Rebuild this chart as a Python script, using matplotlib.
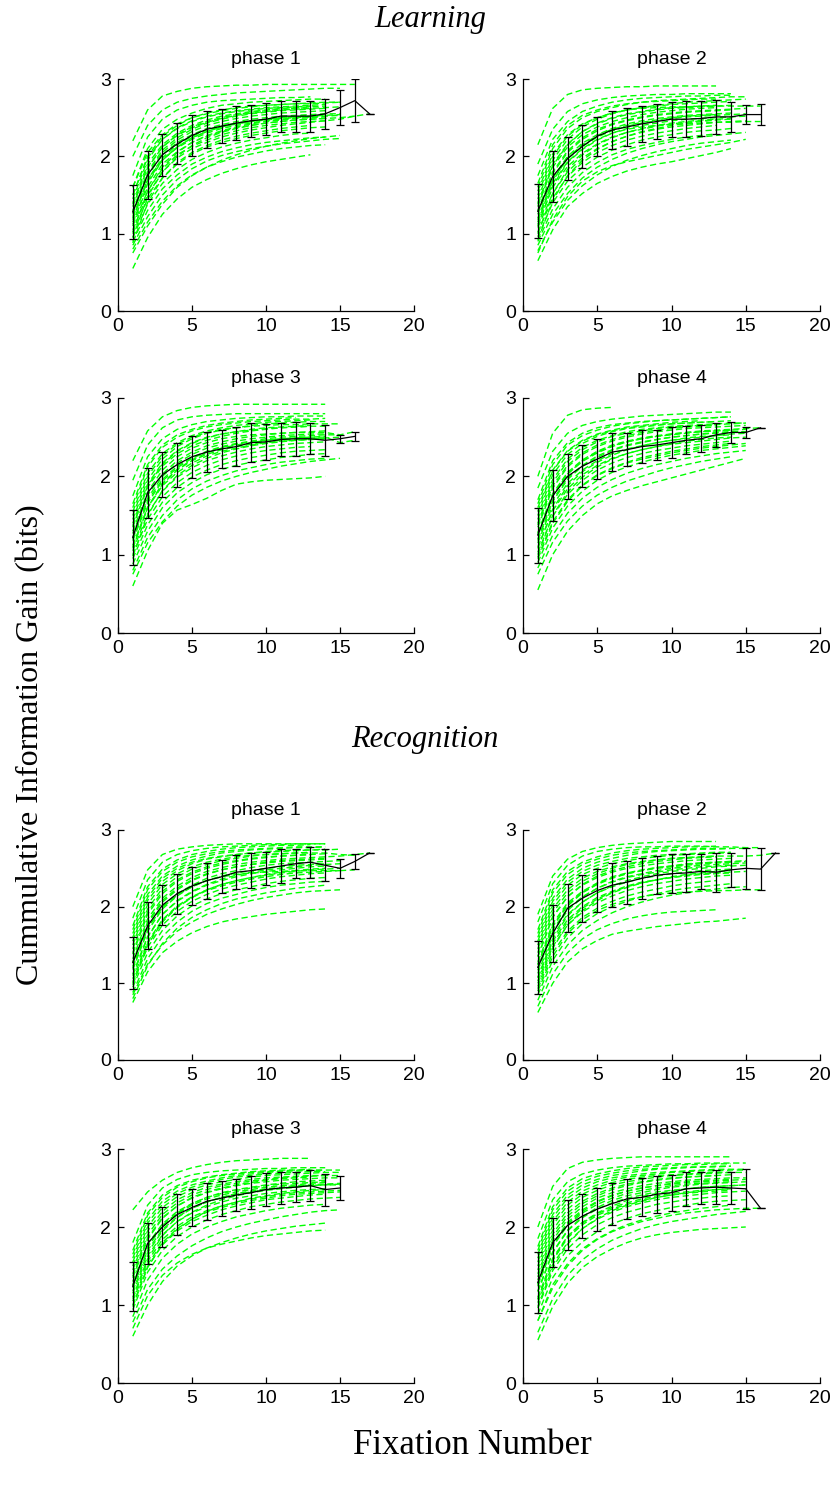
import numpy as np
import matplotlib
matplotlib.use("Agg")
import matplotlib.pyplot as plt

# Cumulative information gain per fixation, Learning / Recognition, phases 1-4
# mean curve and half-width of the error bar, one value per fixation number
learn_p1_mean = [1.28, 1.76, 2.02, 2.16, 2.27, 2.35, 2.39, 2.43, 2.46, 2.48, 2.52, 2.52, 2.52, 2.55, 2.63, 2.72, 2.55]
learn_p1_err = [0.35, 0.31, 0.275, 0.265, 0.26, 0.24, 0.22, 0.22, 0.205, 0.205, 0.20, 0.20, 0.20, 0.195, 0.23, 0.275, 0]
learn_p2_mean = [1.29, 1.74, 1.97, 2.13, 2.26, 2.34, 2.38, 2.42, 2.45, 2.48, 2.48, 2.49, 2.51, 2.51, 2.54, 2.54]
learn_p2_err = [0.35, 0.33, 0.275, 0.275, 0.25, 0.24, 0.245, 0.23, 0.225, 0.225, 0.23, 0.23, 0.215, 0.19, 0.125, 0.14]
learn_p3_mean = [1.22, 1.79, 2.02, 2.15, 2.25, 2.31, 2.35, 2.38, 2.43, 2.44, 2.47, 2.48, 2.48, 2.46, 2.48, 2.51]
learn_p3_err = [0.35, 0.32, 0.285, 0.28, 0.27, 0.255, 0.245, 0.245, 0.245, 0.23, 0.21, 0.22, 0.195, 0.195, 0.05, 0.055]
learn_p4_mean = [1.25, 1.75, 2.00, 2.13, 2.22, 2.31, 2.34, 2.38, 2.40, 2.43, 2.46, 2.48, 2.53, 2.56, 2.56, 2.62]
learn_p4_err = [0.35, 0.325, 0.29, 0.265, 0.26, 0.245, 0.21, 0.21, 0.195, 0.20, 0.18, 0.17, 0.155, 0.135, 0.075, 0]
recog_p1_mean = [1.27, 1.75, 2.02, 2.17, 2.27, 2.34, 2.39, 2.45, 2.47, 2.50, 2.53, 2.56, 2.58, 2.54, 2.50, 2.59, 2.70]
recog_p1_err = [0.34, 0.305, 0.265, 0.26, 0.25, 0.235, 0.215, 0.22, 0.23, 0.215, 0.22, 0.19, 0.20, 0.21, 0.125, 0.095, 0]
recog_p2_mean = [1.21, 1.65, 1.98, 2.11, 2.21, 2.28, 2.32, 2.37, 2.41, 2.43, 2.44, 2.46, 2.45, 2.48, 2.50, 2.49, 2.70]
recog_p2_err = [0.345, 0.37, 0.315, 0.305, 0.285, 0.285, 0.28, 0.265, 0.25, 0.255, 0.25, 0.23, 0.255, 0.22, 0.265, 0.275, 0]
recog_p3_mean = [1.24, 1.79, 2.00, 2.16, 2.25, 2.33, 2.37, 2.41, 2.44, 2.48, 2.50, 2.51, 2.53, 2.48, 2.50]
recog_p3_err = [0.315, 0.26, 0.255, 0.26, 0.235, 0.235, 0.225, 0.21, 0.215, 0.21, 0.21, 0.19, 0.195, 0.205, 0.15]
recog_p4_mean = [1.29, 1.80, 2.02, 2.14, 2.23, 2.30, 2.36, 2.38, 2.42, 2.44, 2.49, 2.50, 2.51, 2.50, 2.49, 2.24]
recog_p4_err = [0.395, 0.315, 0.32, 0.285, 0.275, 0.27, 0.255, 0.245, 0.235, 0.23, 0.215, 0.21, 0.215, 0.21, 0.255, 0]

# individual subjects (bits x 100), fixation 1..n
learn_p1_subj = [
    [220, 260, 278, 284, 288, 290, 291, 292, 292, 293, 293, 293, 293, 293, 293, 293],
    [200, 240, 260, 270, 275, 278, 280, 282, 283, 284, 285, 286, 287, 288, 288],
    [175, 225, 248, 260, 266, 270, 272, 273, 274, 275, 276, 276, 277],
    [160, 210, 235, 248, 256, 262, 266, 268, 270, 271, 272, 273, 274, 274],
    [150, 200, 226, 240, 250, 256, 260, 263, 265, 266, 267, 268, 268, 269, 270],
    [140, 190, 215, 230, 240, 247, 252, 255, 258, 260, 262, 263, 264, 265],
    [130, 180, 208, 224, 235, 243, 248, 252, 255, 257, 259, 260, 261, 262],
    [125, 175, 202, 218, 228, 236, 241, 245, 248, 250, 252, 253, 254, 255, 255],
    [120, 168, 195, 212, 224, 232, 238, 242, 245, 248, 250, 252, 253, 254],
    [115, 160, 190, 206, 218, 226, 232, 237, 240, 243, 245, 247, 248, 249, 250, 252],
    [110, 155, 184, 202, 213, 221, 228, 233, 237, 240, 242, 244, 245, 246],
    [105, 150, 180, 198, 210, 218, 225, 230, 234, 237, 240, 242, 244, 246, 248, 252, 255],
    [100, 145, 172, 190, 203, 212, 218, 223, 227, 230, 233, 235, 237, 238],
    [95, 138, 165, 183, 196, 205, 212, 217, 221, 224, 227, 229, 230],
    [90, 130, 158, 176, 190, 199, 206, 211, 215, 218, 220, 222, 224, 225],
    [85, 122, 150, 170, 184, 194, 201, 206, 210, 213, 216, 218, 220, 222, 223],
    [80, 115, 142, 162, 176, 186, 193, 199, 203, 207, 210, 212, 214, 215],
    [75, 110, 138, 160, 175, 186, 195, 202, 208, 213, 217, 220, 223, 225, 227],
    [55, 95, 125, 145, 160, 170, 178, 184, 189, 193, 196, 199, 202],
    [135, 185, 212, 228, 238, 245, 250, 254, 257, 259, 261, 262, 263],
    [118, 170, 198, 215, 226, 234, 239, 243, 246, 248, 250, 251, 252, 253, 254],
    [145, 195, 222, 237, 246, 252, 256, 259, 261, 263, 264, 265, 266, 267],
    [88, 140, 172, 192, 205, 214, 221, 226, 230, 233, 236, 238, 240],
    [160, 205, 228, 242, 250, 255, 259, 262, 264, 266, 267, 268, 269, 270, 270],
    [128, 178, 205, 221, 232, 240, 245, 249, 252, 254, 256, 257, 258, 259],
    [112, 165, 195, 212, 224, 232, 238, 242, 245, 247, 249, 250, 251],
    [138, 186, 212, 227, 237, 244, 249, 253, 256, 258, 260, 261, 262, 263, 264],
    [102, 155, 186, 205, 218, 227, 233, 238, 242, 245, 247, 249, 250, 251],
    [122, 170, 196, 211, 222, 230, 236, 240, 243, 246, 248, 250, 251, 252, 253],
    [150, 198, 222, 236, 245, 251, 255, 258, 260, 262, 263, 264, 265],
    [95, 148, 180, 200, 214, 224, 231, 236, 240, 243, 245, 247, 248, 249],
]
learn_p2_subj = [
    [215, 262, 280, 286, 288, 289, 290, 290, 291, 291, 291, 291, 291],
    [190, 235, 258, 268, 273, 276, 278, 279, 280, 280, 281, 281, 281, 281],
    [175, 222, 245, 258, 265, 270, 273, 275, 276, 277, 278, 278, 279, 279],
    [160, 210, 236, 250, 258, 263, 267, 270, 272, 273, 274, 275, 276, 277, 277],
    [150, 200, 226, 241, 250, 256, 260, 262, 263, 264, 264, 265, 265, 265, 265, 265],
    [140, 190, 216, 232, 242, 249, 254, 257, 260, 262, 263, 264, 265, 266],
    [130, 180, 207, 224, 235, 242, 247, 251, 254, 256, 258, 259, 260, 261, 262],
    [125, 172, 200, 217, 228, 236, 242, 246, 249, 251, 253, 254, 255, 256],
    [118, 165, 193, 210, 222, 230, 235, 238, 240, 241, 242, 243, 244, 244, 245, 245],
    [112, 160, 187, 204, 216, 225, 231, 235, 239, 242, 244, 246, 247, 248],
    [108, 152, 180, 198, 210, 219, 226, 231, 235, 238, 240, 242, 244, 245, 246],
    [102, 146, 174, 192, 205, 214, 221, 226, 230, 233, 236, 238, 240],
    [96, 140, 168, 186, 199, 208, 215, 221, 225, 228, 231, 233, 234, 236],
    [90, 132, 160, 179, 192, 202, 209, 214, 218, 222, 225, 227, 229],
    [85, 125, 152, 172, 186, 196, 204, 210, 215, 219, 222, 225, 227, 229, 231],
    [78, 115, 143, 162, 176, 187, 195, 201, 206, 210, 214, 217, 219, 221],
    [65, 105, 135, 152, 165, 174, 181, 186, 190, 193, 197, 201, 205, 210],
    [75, 118, 148, 168, 180, 188, 193, 197, 201, 205, 209, 212, 215, 218, 222],
    [135, 188, 215, 232, 243, 250, 255, 258, 261, 263, 264, 265, 266],
    [145, 195, 222, 238, 248, 255, 260, 263, 266, 268, 270, 271, 272, 273, 274],
    [115, 168, 198, 215, 227, 235, 240, 244, 247, 250, 252, 253, 254],
    [165, 215, 240, 253, 260, 265, 268, 270, 271, 272, 273, 274, 274],
    [128, 178, 205, 222, 233, 241, 246, 250, 253, 255, 257, 258, 259, 260],
    [110, 162, 192, 209, 221, 230, 236, 240, 243, 246, 248, 249, 250, 251, 252],
    [138, 186, 212, 228, 238, 245, 250, 254, 257, 259, 261, 262, 263],
    [100, 152, 183, 202, 215, 224, 231, 236, 240, 243, 245, 247, 248, 249],
    [120, 170, 197, 213, 225, 233, 239, 243, 246, 249, 251, 252, 253, 254, 255],
    [155, 203, 228, 242, 250, 256, 260, 263, 265, 267, 268, 269, 270, 271],
    [92, 143, 175, 195, 209, 219, 226, 232, 236, 240, 243, 245, 247],
]
learn_p3_subj = [
    [220, 258, 276, 284, 288, 290, 291, 292, 292, 292, 292, 292, 292, 292],
    [195, 240, 262, 272, 276, 278, 279, 280, 280, 280, 280, 280, 280, 280],
    [175, 225, 248, 260, 266, 270, 272, 274, 275, 276, 276, 277, 277, 277],
    [160, 212, 237, 250, 258, 263, 266, 268, 270, 271, 272, 273, 273, 274],
    [150, 200, 226, 241, 250, 256, 260, 262, 264, 265, 266, 266, 267, 267, 267],
    [140, 190, 217, 233, 243, 250, 254, 257, 259, 261, 262, 263, 264, 264],
    [130, 180, 208, 225, 236, 243, 248, 251, 253, 254, 255, 256, 256, 256, 253, 257],
    [122, 172, 200, 217, 228, 236, 241, 245, 248, 250, 252, 253, 254, 254],
    [118, 166, 194, 211, 223, 231, 237, 241, 244, 246, 248, 249, 250, 250, 243, 246],
    [112, 160, 188, 205, 217, 226, 232, 236, 240, 243, 245, 246, 247, 248],
    [105, 152, 181, 199, 211, 220, 226, 231, 235, 238, 240, 242, 243, 244],
    [100, 145, 174, 192, 205, 214, 221, 226, 230, 233, 235, 237, 238],
    [95, 138, 167, 186, 199, 208, 215, 220, 224, 227, 230, 232, 233, 234],
    [88, 130, 160, 179, 192, 202, 209, 214, 218, 221, 224, 226, 228, 229],
    [80, 122, 150, 170, 184, 194, 201, 207, 211, 215, 218, 220, 222, 223],
    [60, 105, 140, 157, 164, 172, 182, 190, 193, 195, 196, 197, 198, 200],
    [75, 115, 142, 162, 176, 186, 194, 200, 205, 209, 213, 216, 219, 221, 223],
    [135, 188, 215, 232, 242, 249, 254, 257, 260, 262, 263, 264, 265],
    [145, 195, 222, 238, 248, 255, 259, 262, 265, 267, 268, 269, 270, 270],
    [108, 160, 190, 208, 220, 228, 234, 238, 241, 244, 246, 247, 248, 249, 250],
    [165, 215, 240, 253, 260, 265, 268, 270, 272, 273, 274, 275],
    [127, 176, 203, 220, 231, 239, 244, 248, 251, 253, 255, 256, 257, 258],
    [110, 160, 191, 209, 221, 230, 236, 240, 243, 246, 248, 249, 250, 251],
    [137, 186, 213, 229, 239, 246, 251, 255, 258, 260, 262, 263, 264],
    [98, 150, 182, 201, 214, 223, 230, 235, 239, 242, 244, 246, 247, 248],
    [120, 169, 196, 213, 224, 232, 238, 242, 245, 248, 250, 251, 252, 253, 253],
    [155, 204, 229, 243, 252, 258, 262, 265, 267, 269, 270, 271, 272],
]
learn_p4_subj = [
    [200, 255, 278, 285, 287, 288],
    [185, 232, 255, 265, 270, 273, 275, 277, 278, 279, 280, 281, 282, 282],
    [170, 220, 243, 255, 262, 266, 268, 270, 271, 272, 273, 274, 275, 276],
    [155, 207, 232, 245, 253, 258, 262, 264, 266, 267, 268, 269, 270, 271],
    [145, 196, 222, 237, 246, 252, 257, 260, 262, 264, 265, 266, 267, 268, 268],
    [135, 185, 212, 228, 238, 245, 250, 254, 257, 259, 261, 262, 263, 264, 265],
    [128, 178, 205, 221, 232, 240, 245, 249, 252, 254, 256, 258, 259, 260, 261, 262],
    [120, 170, 198, 214, 226, 234, 240, 244, 247, 250, 252, 254, 256, 257, 257],
    [115, 163, 191, 208, 220, 229, 235, 239, 243, 246, 248, 250, 252, 253],
    [110, 156, 184, 202, 214, 223, 229, 234, 238, 241, 243, 245, 247, 249, 250],
    [103, 149, 177, 195, 208, 217, 224, 229, 233, 236, 239, 241, 243, 245],
    [97, 142, 170, 189, 202, 211, 218, 224, 228, 232, 235, 238, 240, 242],
    [90, 134, 162, 181, 195, 205, 212, 218, 223, 227, 230, 233, 235, 237, 239],
    [83, 125, 153, 172, 186, 196, 204, 210, 215, 219, 223, 226, 229, 231, 233],
    [75, 116, 143, 162, 176, 186, 194, 200, 206, 211, 215, 219, 222, 225],
    [55, 100, 130, 150, 165, 175, 182, 188, 193, 198, 203, 208, 213, 218, 223],
    [140, 192, 219, 234, 244, 251, 255, 258, 261, 263, 264, 265, 266, 267, 268],
    [150, 202, 228, 242, 251, 257, 261, 263, 265, 267, 268, 269, 270],
    [125, 175, 203, 220, 231, 239, 244, 248, 251, 253, 255, 257, 258, 259, 260],
    [165, 215, 240, 252, 259, 264, 267, 269, 271, 272, 273, 274, 275, 276],
    [95, 140, 168, 188, 201, 210, 217, 222, 226, 230, 233, 236, 238, 240, 242],
    [127, 176, 203, 219, 230, 238, 244, 248, 251, 254, 256, 257, 258, 259],
    [108, 158, 188, 206, 218, 227, 234, 239, 243, 246, 249, 251, 252, 254, 255],
    [138, 188, 214, 230, 240, 247, 252, 256, 259, 261, 263, 264, 265],
    [100, 150, 180, 199, 212, 222, 229, 234, 238, 242, 245, 247, 249, 250],
    [118, 168, 196, 213, 224, 233, 239, 243, 247, 250, 252, 254, 255, 256, 257],
    [160, 208, 233, 246, 254, 259, 263, 265, 267, 269, 270, 271],
]
recog_p1_subj = [
    [200, 248, 268, 275, 278, 280, 281, 282, 282, 282, 282, 282, 282, 282],
    [185, 235, 258, 268, 273, 276, 278, 279, 280, 281, 281, 282, 282, 282],
    [170, 222, 246, 258, 265, 269, 272, 274, 275, 276, 277, 278, 278, 278],
    [160, 212, 237, 250, 258, 263, 266, 268, 270, 272, 273, 274, 274, 275],
    [150, 203, 229, 243, 252, 258, 262, 265, 267, 268, 269, 270, 270, 270, 268, 267],
    [140, 193, 220, 235, 245, 252, 257, 260, 263, 265, 266, 267, 268, 269],
    [132, 184, 211, 227, 238, 246, 251, 255, 258, 260, 262, 263, 264, 265, 266, 268, 270],
    [122, 172, 199, 215, 226, 234, 239, 242, 244, 245, 246, 247, 247, 247, 247, 248],
    [118, 168, 197, 214, 226, 234, 240, 244, 247, 250, 252, 254, 255, 256],
    [112, 161, 190, 207, 219, 228, 234, 239, 243, 246, 248, 250, 252, 253],
    [106, 154, 183, 201, 213, 222, 229, 234, 238, 241, 244, 246, 248, 249, 250],
    [100, 147, 176, 194, 207, 216, 223, 228, 232, 236, 239, 241, 243, 244],
    [95, 140, 169, 188, 201, 210, 217, 222, 226, 230, 233, 235, 237, 238],
    [88, 132, 161, 180, 194, 204, 211, 216, 221, 225, 228, 230, 232, 233],
    [80, 123, 152, 172, 186, 196, 204, 210, 214, 218, 221, 224, 226, 228],
    [75, 115, 140, 155, 166, 174, 180, 184, 187, 190, 192, 194, 196, 197],
    [85, 125, 150, 168, 180, 190, 197, 203, 208, 212, 215, 218, 220, 221, 222],
    [145, 197, 224, 239, 249, 255, 260, 263, 266, 268, 269, 270, 271],
    [155, 208, 233, 247, 256, 262, 265, 268, 270, 271, 272, 273, 274, 274, 275],
    [128, 180, 208, 224, 235, 243, 248, 252, 255, 257, 259, 260, 261, 262],
    [175, 226, 249, 261, 268, 272, 275, 277, 278, 279, 280, 280, 281],
    [102, 152, 182, 200, 212, 221, 227, 232, 236, 239, 242, 244, 245, 246, 247],
    [127, 178, 206, 222, 234, 242, 248, 252, 255, 258, 260, 261, 262, 263],
    [110, 160, 190, 208, 220, 229, 236, 241, 245, 248, 250, 252, 254, 255, 256],
    [138, 190, 217, 233, 243, 250, 255, 259, 262, 264, 266, 267, 268],
    [98, 150, 180, 199, 212, 222, 229, 234, 238, 242, 245, 247, 249, 250],
    [120, 172, 200, 217, 228, 237, 243, 247, 251, 254, 256, 257, 258, 259, 260],
    [165, 216, 240, 253, 261, 266, 270, 272, 274, 275, 276, 277, 277, 278],
]
recog_p2_subj = [
    [190, 240, 262, 272, 277, 280, 282, 283, 284, 285, 285, 285, 285],
    [180, 230, 254, 266, 272, 275, 277, 278, 278, 279, 279, 279, 278, 278, 277, 277],
    [165, 218, 242, 255, 262, 267, 270, 272, 273, 274, 275, 276, 276, 276, 276],
    [155, 207, 232, 246, 254, 259, 263, 265, 267, 268, 269, 270, 271, 271],
    [145, 197, 222, 237, 246, 252, 256, 259, 261, 263, 264, 265, 266, 266, 266, 267, 270],
    [135, 187, 213, 228, 238, 245, 250, 253, 256, 258, 260, 261, 262, 263],
    [128, 178, 205, 220, 231, 239, 244, 248, 251, 253, 255, 257, 258, 259, 260],
    [120, 170, 197, 213, 224, 232, 238, 242, 245, 248, 250, 252, 253, 254],
    [113, 162, 190, 206, 218, 226, 232, 237, 240, 243, 245, 247, 248, 249],
    [107, 155, 183, 200, 212, 220, 227, 232, 235, 238, 241, 243, 244, 245, 246],
    [100, 148, 176, 193, 205, 214, 221, 226, 230, 233, 236, 238, 240, 241],
    [93, 140, 168, 186, 198, 207, 214, 219, 223, 227, 230, 232, 234],
    [85, 130, 159, 178, 191, 200, 207, 213, 217, 221, 224, 226, 228, 230],
    [78, 122, 150, 169, 182, 192, 200, 206, 211, 215, 218, 221, 223, 225, 226],
    [62, 100, 128, 145, 156, 164, 168, 171, 174, 176, 178, 180, 181, 183, 185],
    [70, 112, 140, 158, 170, 178, 184, 188, 191, 193, 194, 195, 196],
    [90, 135, 165, 183, 195, 203, 209, 213, 216, 218, 219, 220, 221, 221, 222, 222],
    [140, 192, 218, 233, 243, 250, 255, 258, 261, 263, 264, 265, 266],
    [170, 222, 246, 258, 265, 270, 273, 275, 276, 277, 278, 278, 279],
    [125, 175, 203, 219, 230, 238, 243, 247, 250, 252, 254, 256, 257, 258, 259],
    [150, 202, 228, 242, 250, 256, 260, 263, 265, 267, 268, 269, 270, 270],
    [103, 152, 180, 198, 210, 219, 226, 231, 235, 238, 240, 242, 243, 244],
    [124, 174, 201, 218, 229, 237, 243, 247, 251, 253, 256, 257, 258, 259],
    [108, 158, 188, 206, 218, 227, 234, 239, 243, 246, 248, 250, 252, 253, 254],
    [135, 186, 213, 229, 240, 247, 252, 256, 259, 261, 263, 264, 265],
    [96, 146, 176, 195, 208, 218, 225, 231, 235, 239, 242, 244, 246, 247],
    [117, 167, 195, 212, 224, 233, 239, 243, 247, 250, 252, 254, 255, 256, 257],
    [160, 211, 236, 250, 258, 263, 267, 270, 272, 273, 274, 275, 275, 276],
]
recog_p3_subj = [
    [222, 245, 260, 270, 276, 280, 283, 285, 286, 287, 288, 288, 288],
    [180, 228, 250, 261, 267, 270, 272, 273, 274, 275, 275, 276, 276, 276],
    [165, 215, 238, 251, 258, 263, 266, 268, 270, 271, 272, 273, 273, 273, 273],
    [155, 205, 229, 243, 251, 257, 261, 264, 266, 268, 269, 270, 271, 271],
    [145, 195, 220, 235, 244, 251, 255, 258, 261, 263, 264, 265, 266, 266, 266],
    [137, 186, 212, 227, 237, 244, 249, 253, 256, 258, 260, 261, 262, 263, 263],
    [130, 178, 204, 220, 230, 238, 243, 247, 250, 253, 255, 256, 257, 258],
    [122, 170, 197, 213, 224, 232, 238, 242, 245, 248, 250, 252, 253, 254, 254],
    [115, 163, 190, 207, 218, 226, 232, 237, 240, 243, 245, 247, 248, 249],
    [108, 156, 184, 201, 213, 221, 227, 232, 236, 239, 242, 244, 245, 246, 247],
    [100, 149, 177, 195, 207, 215, 222, 227, 231, 235, 237, 239, 241, 242],
    [94, 142, 170, 188, 200, 209, 216, 221, 226, 229, 232, 234, 236, 237, 238],
    [85, 132, 160, 178, 191, 200, 207, 213, 217, 221, 224, 226, 228, 229],
    [70, 112, 138, 154, 165, 173, 178, 182, 186, 189, 191, 193, 195, 196],
    [78, 120, 146, 163, 176, 186, 194, 200, 205, 209, 213, 216, 219, 221, 222],
    [60, 100, 130, 150, 163, 173, 180, 186, 191, 195, 198, 201, 203, 205],
    [140, 190, 216, 231, 241, 248, 253, 256, 259, 261, 263, 264, 265, 266],
    [150, 200, 225, 239, 248, 254, 258, 261, 264, 266, 267, 268, 269, 270, 270],
    [125, 174, 201, 217, 228, 236, 241, 245, 248, 251, 253, 254, 256, 257],
    [170, 218, 241, 253, 260, 264, 267, 269, 271, 272, 273, 273, 274],
    [105, 152, 180, 198, 210, 219, 225, 230, 234, 237, 240, 242, 243, 244, 245],
    [126, 175, 202, 218, 230, 238, 244, 248, 251, 254, 256, 258, 259, 260],
    [110, 159, 189, 207, 219, 228, 235, 240, 244, 247, 249, 251, 253, 254, 255],
    [135, 184, 211, 227, 238, 245, 250, 254, 257, 260, 262, 263, 264],
    [98, 148, 178, 197, 210, 220, 227, 232, 237, 240, 243, 245, 247, 248],
    [118, 167, 195, 212, 224, 232, 238, 243, 246, 249, 251, 253, 254, 255, 256],
    [160, 209, 233, 246, 254, 259, 263, 266, 268, 270, 271, 272, 272, 273],
]
recog_p4_subj = [
    [200, 252, 275, 283, 286, 288, 289, 290, 290, 290, 290, 290, 290, 290],
    [185, 235, 258, 268, 273, 276, 278, 279, 280, 281, 281, 282, 282, 282, 282],
    [170, 222, 246, 258, 265, 269, 272, 274, 275, 276, 277, 277, 278, 278],
    [160, 212, 237, 250, 258, 263, 266, 268, 270, 271, 272, 273, 274, 274, 274],
    [150, 202, 228, 242, 251, 257, 261, 264, 266, 267, 268, 269, 270, 270, 270],
    [140, 191, 218, 233, 243, 250, 255, 258, 261, 263, 264, 265, 266, 267],
    [132, 183, 210, 226, 237, 244, 249, 253, 256, 258, 260, 261, 262, 263, 263],
    [124, 175, 202, 218, 229, 237, 243, 247, 250, 253, 255, 256, 257, 258],
    [117, 167, 195, 212, 223, 231, 237, 241, 245, 247, 249, 251, 252, 253, 254],
    [110, 160, 188, 205, 217, 225, 231, 236, 240, 243, 245, 247, 248, 249],
    [103, 152, 180, 198, 210, 219, 226, 231, 235, 238, 240, 242, 244, 245, 246],
    [96, 144, 172, 190, 203, 212, 219, 224, 229, 232, 235, 237, 239, 240],
    [88, 135, 163, 181, 194, 204, 211, 217, 221, 225, 228, 231, 233, 234, 235],
    [80, 126, 153, 172, 185, 195, 203, 209, 214, 218, 221, 224, 226, 228],
    [55, 98, 128, 148, 162, 172, 180, 186, 190, 193, 195, 197, 198, 199, 200],
    [80, 122, 150, 170, 184, 194, 201, 207, 211, 215, 218, 220, 222, 223, 224, 224],
    [65, 108, 138, 158, 172, 183, 191, 198, 203, 207, 210, 213, 216, 218, 220],
    [145, 196, 223, 238, 247, 254, 258, 261, 264, 266, 267, 268, 269, 270],
    [155, 207, 232, 246, 254, 260, 264, 266, 268, 270, 271, 272, 272, 273, 273],
    [127, 178, 206, 222, 233, 241, 246, 250, 253, 255, 257, 258, 259, 260, 261],
    [175, 226, 250, 262, 268, 272, 275, 277, 278, 279, 280, 280, 281, 281],
    [107, 157, 186, 203, 215, 223, 229, 234, 238, 241, 243, 245, 246, 247],
    [126, 177, 204, 220, 232, 240, 246, 250, 253, 256, 258, 259, 260, 261],
    [108, 158, 188, 206, 218, 227, 234, 239, 243, 246, 249, 251, 252, 253, 254],
    [136, 187, 214, 230, 240, 248, 253, 257, 260, 262, 264, 265, 266],
    [98, 148, 178, 198, 211, 221, 228, 233, 238, 241, 244, 246, 248, 249],
    [118, 168, 196, 213, 225, 234, 240, 244, 248, 251, 253, 255, 256, 257, 258],
    [165, 216, 241, 254, 261, 266, 269, 272, 274, 275, 276, 277, 277, 278],
]

phase_titles = ["phase 1", "phase 2", "phase 3", "phase 4"]
x_ticks = [0, 5, 10, 15, 20]
y_ticks = [0, 1, 2, 3]

panels = [
    (learn_p1_subj, learn_p1_mean, learn_p1_err),
    (learn_p2_subj, learn_p2_mean, learn_p2_err),
    (learn_p3_subj, learn_p3_mean, learn_p3_err),
    (learn_p4_subj, learn_p4_mean, learn_p4_err),
    (recog_p1_subj, recog_p1_mean, recog_p1_err),
    (recog_p2_subj, recog_p2_mean, recog_p2_err),
    (recog_p3_subj, recog_p3_mean, recog_p3_err),
    (recog_p4_subj, recog_p4_mean, recog_p4_err),
]

W, H = 838, 1489
fig = plt.figure(figsize=(W / 100, H / 100), dpi=100)

# axes boxes in pixels: (left, right) per column, (top, bottom) per row
cols = [(118, 414), (523, 820)]
rows = [(79, 311), (398, 633), (830, 1060), (1149, 1383)]

for i, (subj, mean, err) in enumerate(panels):
    r, c = divmod(i, 2)
    x0, x1 = cols[c]
    t, b = rows[r]
    ax = fig.add_axes([x0 / W, 1 - b / H, (x1 - x0) / W, (b - t) / H])

    for s in subj:
        xs = np.arange(1, len(s) + 1)
        ax.plot(xs, np.array(s) / 100.0, color="#00ff00", lw=1.0,
                dashes=(4.5, 2.5), zorder=1)

    xm = np.arange(1, len(mean) + 1)
    ax.errorbar(xm, mean, yerr=err, color="black", lw=0.9, elinewidth=0.9,
                capsize=3, capthick=0.9, zorder=3)

    ax.set_xlim(0, 20)
    ax.set_ylim(0, 3)
    ax.set_xticks(x_ticks)
    ax.set_yticks(y_ticks)
    for side in ["top", "right"]:
        ax.spines[side].set_visible(False)
    for side in ["left", "bottom"]:
        ax.spines[side].set_linewidth(0.9)
    ax.tick_params(direction="in", length=4, width=0.9, labelsize=14, pad=5)
    for lab in ax.get_xticklabels() + ax.get_yticklabels():
        lab.set_fontfamily("Liberation Sans")
    ax.set_title(phase_titles[i % 4], fontsize=14, family="Liberation Sans", pad=11)

serif = "Liberation Serif"
fig.text(430 / W, 1 - 20 / H, "Learning", ha="center", va="center",
         fontsize=22, style="italic", family=serif)
fig.text(425 / W, 1 - 740 / H, "Recognition", ha="center", va="center",
         fontsize=22, style="italic", family=serif)
fig.text(472 / W, 1 - 1446 / H, "Fixation Number", ha="center", va="center",
         fontsize=25, family=serif)
fig.text(31 / W, 1 - 745 / H, "Cummulative Information Gain (bits)", ha="center",
         va="center", rotation=90, fontsize=23, family=serif)

fig.savefig("out.png", dpi=100)
